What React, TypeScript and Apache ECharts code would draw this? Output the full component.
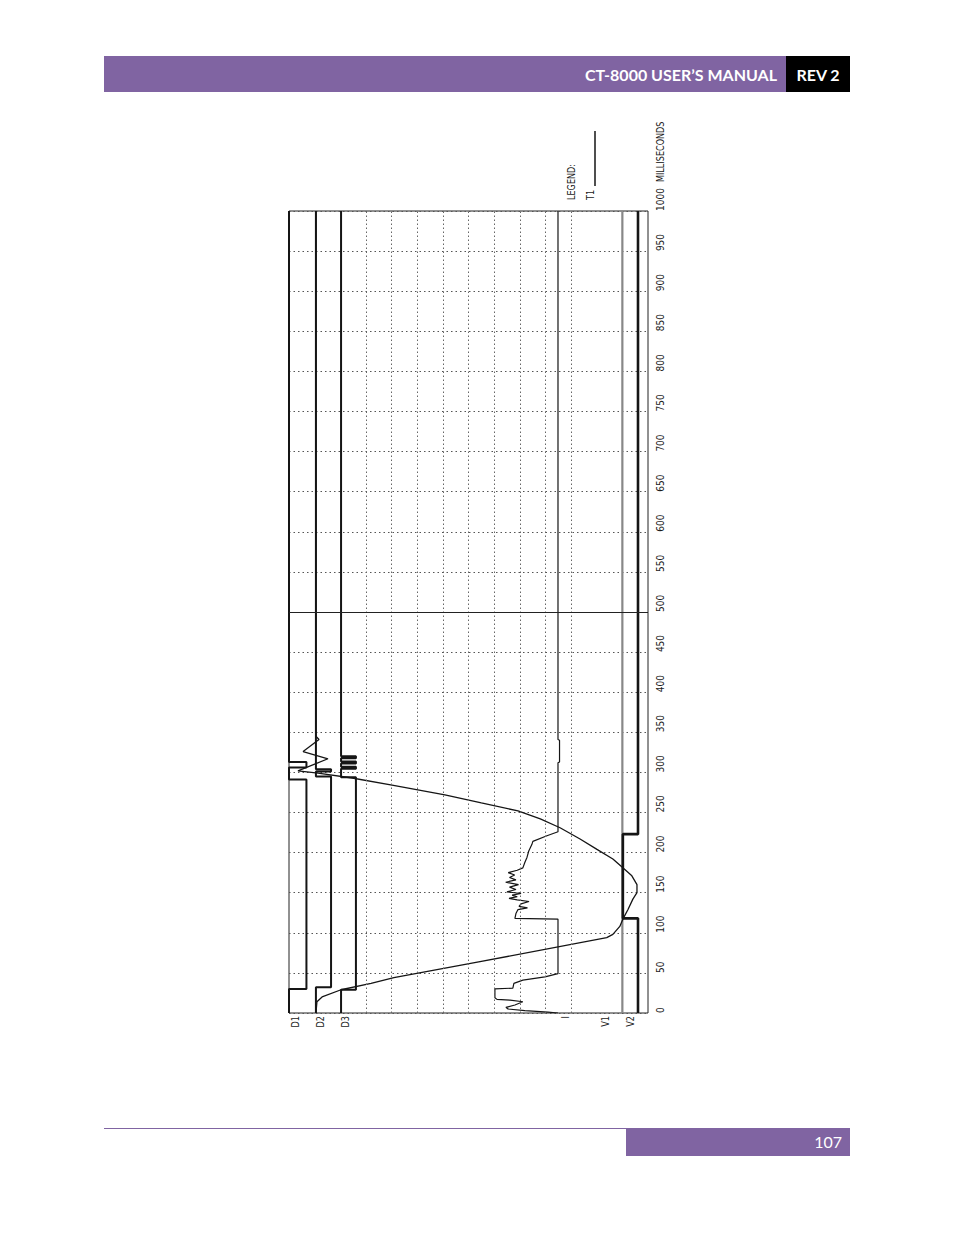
import React, { useEffect, useRef } from 'react';
import * as echarts from 'echarts';

// time axis (ms) runs up the page, amplitude (grid divisions) runs across
const timeMax = 1000;
const timeStep = 50;
const ampGrid = [3, 4, 5, 6, 7, 8, 9, 10, 11];

const channelNames = ['D1', 'D2', 'D3', 'I', 'V1', 'V2'];
const channelLabelPos = [0.23, 1.21, 2.18, 10.76, 12.32, 13.3];

// digital contacts: edges in ms, starting low
const d1Edges = [30, 291, 306, 313];
const d2Edges = [32, 295, 301, 304];
const d3Edges = [29, 294, 304.5, 307, 311, 313.5, 317.5, 320];
const v2Edges = [118, 223]; // starts high

// travel trace T1
const t1Time = [0, 14, 20, 29, 37, 44, 64, 94, 98, 108, 117, 129, 142, 150, 160, 171, 181, 192, 204, 217, 231, 242, 252, 262, 272, 284, 293, 299, 302, 317, 326, 341, 345, 1000];
const t1Pos = [1.05, 1.09, 1.29, 2.03, 3.2, 4.09, 7.45, 12.39, 12.63, 12.9, 13.02, 13.22, 13.41, 13.57, 13.57, 13.37, 13.02, 12.63, 12.01, 11.35, 10.57, 9.8, 8.93, 7.5, 6.08, 4.02, 2.46, 1.13, 0.35, 1.52, 0.55, 1.17, 1.05, 1.05];

// coil current I
const iTime = [0, 1, 3, 5, 7, 10, 14, 16, 17, 19, 30, 31, 37, 41, 45, 49, 117, 118, 124, 129, 131, 133, 136, 139, 141, 143, 145, 147, 149, 151, 154, 157, 160, 163, 166, 169, 172, 175, 178, 181, 188, 194, 202, 210, 214, 221, 226, 312, 313, 340, 341, 1000];
const iPos = [10.49, 10.1, 9.2, 8.54, 8.46, 8.81, 9.12, 8.62, 8.11, 8.03, 8.03, 8.73, 8.77, 9.12, 9.98, 10.49, 10.49, 8.81, 8.85, 8.93, 9.3, 8.97, 9.05, 9.36, 8.9, 8.58, 8.9, 8.7, 9.05, 8.5, 8.85, 8.6, 8.95, 8.45, 8.85, 8.6, 8.8, 8.55, 8.9, 9.12, 9.2, 9.28, 9.35, 9.47, 9.51, 10.06, 10.49, 10.49, 10.55, 10.55, 10.49, 10.49];

const chanBase = { D1: 0, D2: 1.05, D3: 2.03, V1: 13.0, V2: 13.02 };
const chanHigh = { D1: 0.68, D2: 1.64, D3: 2.61, V2: 13.61 };

const purple = '#8064A2';
const ink = '#151515';
const plotFont = '"Liberation Sans Narrow", "DejaVu Sans Condensed", "Roboto", sans-serif';

function stepTrace(base: number, high: number, edges: number[], startHigh = false) {
  let state = startHigh;
  const pts: number[][] = [[state ? high : base, 0]];
  edges.forEach((t) => {
    pts.push([state ? high : base, t]);
    state = !state;
    pts.push([state ? high : base, t]);
  });
  pts.push([state ? high : base, timeMax]);
  return pts;
}

const traceLine = (name: string, data: number[][], width: number, color = ink) => ({
  name,
  type: 'line',
  data,
  showSymbol: false,
  symbol: 'none',
  lineStyle: { color, width },
  z: 3,
});

export default function App() {
  const ref = useRef<HTMLDivElement>(null);

  useEffect(() => {
    if (!ref.current) return;
    const chart = echarts.init(ref.current, null, { renderer: 'svg' });

    chart.setOption({
      animation: false,
      backgroundColor: '#fff',
      grid: { left: 289, top: 211, width: 359, height: 802, show: true, borderColor: '#222', borderWidth: 1 },
      xAxis: { type: 'value', min: 0, max: 14, show: false },
      yAxis: {
        type: 'value',
        min: 0,
        max: timeMax,
        interval: timeStep,
        position: 'right',
        axisLine: { show: false },
        axisTick: { show: false },
        axisLabel: {
          rotate: 90,
          align: 'left',
          verticalAlign: 'middle',
          margin: 12,
          fontSize: 10,
          fontFamily: plotFont,
          color: '#1a1a1a',
          formatter: (v: number) => String(v),
        },
        splitLine: { lineStyle: { type: [1.5, 3], color: '#555', width: 1 } },
      },
      series: [
        {
          ...traceLine('V1', [[chanBase.V1, 0], [chanBase.V1, timeMax]], 2.2, '#888'),
          markLine: {
            silent: true,
            symbol: 'none',
            label: { show: false },
            data: [
              ...ampGrid.map((x) => ({ xAxis: x, lineStyle: { type: [1.5, 2.5], color: '#666', width: 1 } })),
              { yAxis: 500, lineStyle: { type: 'solid', color: '#222', width: 1 } },
            ],
          },
        },
        traceLine('D1', stepTrace(chanBase.D1, chanHigh.D1, d1Edges), 2),
        traceLine('D2', stepTrace(chanBase.D2, chanHigh.D2, d2Edges), 2),
        traceLine('D3', stepTrace(chanBase.D3, chanHigh.D3, d3Edges), 2),
        traceLine('V2', stepTrace(chanBase.V2, chanHigh.V2, v2Edges, true), 2.6),
        traceLine('I', iTime.map((t, k) => [iPos[k], t]), 1.2),
        traceLine('T1', t1Time.map((t, k) => [t1Pos[k], t]), 1.3),
      ],
    });

    const px = (x: number, t: number) => chart.convertToPixel({ gridIndex: 0 }, [x, t]) as number[];
    const bottom = px(0, 0)[1];
    const top = px(0, timeMax)[1];
    const right = px(14, 0)[0];

    const vText = (text: string, x: number, y: number, align: string, size = 10) => ({
      type: 'text',
      x,
      y,
      rotation: Math.PI / 2,
      scaleX: 0.9,
      style: { text, align, verticalAlign: 'middle', fontSize: size, fontFamily: plotFont, fill: '#1a1a1a' },
    });

    chart.setOption({
      graphic: [
        // page header
        { type: 'rect', shape: { x: 104, y: 56, width: 682, height: 36 }, style: { fill: purple } },
        { type: 'rect', shape: { x: 786, y: 56, width: 64, height: 36 }, style: { fill: '#000' } },
        {
          type: 'text', x: 777, y: 74,
          style: { text: 'CT-8000 USER’S MANUAL', align: 'right', verticalAlign: 'middle', fill: '#fff', fontSize: 16, fontWeight: 'bold', fontFamily: 'Lato, "Open Sans", sans-serif' },
        },
        {
          type: 'text', x: 818, y: 74,
          style: { text: 'REV 2', align: 'center', verticalAlign: 'middle', fill: '#fff', fontSize: 16, fontWeight: 'bold', fontFamily: 'Lato, "Open Sans", sans-serif' },
        },
        // page footer
        { type: 'line', shape: { x1: 104, y1: 1128.5, x2: 626, y2: 1128.5 }, style: { stroke: purple, lineWidth: 1 } },
        { type: 'rect', shape: { x: 626, y: 1128, width: 224, height: 28 }, style: { fill: purple } },
        {
          type: 'text', x: 842, y: 1141,
          style: { text: '107', align: 'right', verticalAlign: 'middle', fill: '#fff', fontSize: 16, fontFamily: 'Lato, "Open Sans", sans-serif' },
        },
        // channel names under the plot
        ...channelNames.map((name, k) => vText(name, px(channelLabelPos[k], 0)[0], bottom + 3, 'right')),
        vText('MILLISECONDS', right + 12, top - 29, 'left'),
        vText('LEGEND:', 571, top - 11, 'left'),
        vText('T1', 590, top - 11, 'left'),
        { type: 'line', shape: { x1: 595, y1: 131, x2: 595, y2: 186 }, style: { stroke: ink, lineWidth: 1.5 } },
      ],
    });

    return () => chart.dispose();
  }, []);

  return <div ref={ref} style={{ position: 'absolute', left: 0, top: 0, width: 954, height: 1235 }} />;
}
